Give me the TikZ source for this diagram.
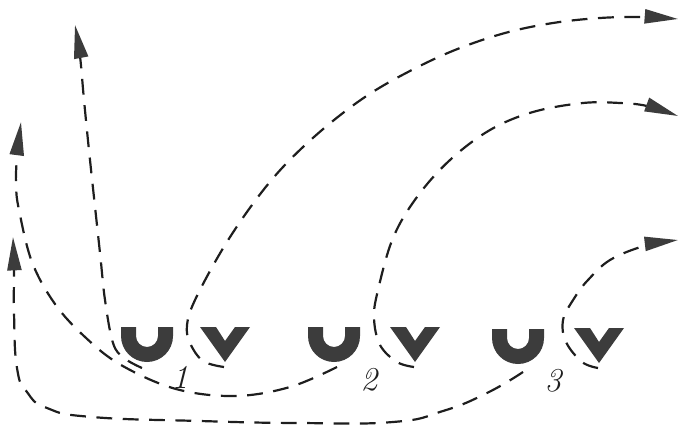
\documentclass[tikz,border=0pt]{standalone}
\usepackage{amsmath}
\usetikzlibrary{arrows.meta}
\definecolor{ink}{HTML}{1E1E1E}
\definecolor{soot}{HTML}{3C3C3C}
\tikzset{>=Latex,flow/.style={-{Triangle[length=19pt,width=8pt,color=soot,fill=soot]},ink,line width=1.25pt,dash pattern=on 9pt off 6pt},blockshape/.style={fill=soot},num/.style={font=\fontsize{19}{20}\selectfont\itshape,text=ink,inner sep=0pt}}
\begin{document}
\begin{tikzpicture}[x=.02cm,y=-.02cm]
\useasboundingbox (0,0) rectangle (678,425);
% cups and vees
\foreach \n/\ux/\uy/\vx/\vy in {1/147/327/225/327,2/334/327/415/327,3/518/329/599/328}{
\fill[blockshape,shift={(\ux,\uy)}] (-26,0) -- (-11,0) -- (-11,9) arc[start angle=180,end angle=0,x radius=11,y radius=11] -- (11,0) -- (26,0) -- (26,9) arc[start angle=0,end angle=180,x radius=26,y radius=26] -- cycle;
\fill[blockshape,shift={(\vx,\vy)}] (-25,0) -- (-9,0) -- (0,14) -- (10,0) -- (25,0) -- (0,35) -- cycle;
\coordinate (v\n) at (\vx-1,\vy+40);
}
\node[num] (n1) at (180,377) {1};
\node[num] (n2) at (369,380) {2};
\node[num] (n3) at (553,381) {3};
% ends of the paths
\coordinate (a1) at (678,19);\coordinate (a2) at (678,116);\coordinate (a3) at (678,240);
\coordinate (b1) at (75,25);\coordinate (b2) at (21,122);\coordinate (b3) at (13,237);
\coordinate (u1) at (142,368);\coordinate (u2) at (337,367);\coordinate (u3) at (523,372);
% to the right
\draw[flow] plot[smooth,tension=.6] coordinates {(v1) (203,361) (190,343) (187,325) (195,300) (222,250) (252,205) (283,167) (322,130) (365,97) (408,72) (455,50) (505,33) (553,23) (600,18) (642,17) (a1)};
\draw[flow] plot[smooth,tension=.6] coordinates {(v2) (397,362) (380,345) (374,318) (378,290) (393,238) (417,197) (450,160) (490,130) (533,112) (583,103) (620,103) (647,106) (a2)};
\draw[flow] plot[smooth,tension=.6] coordinates {(v3) (582,362) (566,342) (563,320) (575,297) (588,280) (610,260) (644,246) (a3)};
% to the left
\draw[flow] plot[smooth,tension=.6] coordinates {(u1) (124,358) (113,343) (105,300) (100,253) (90,160) (84,100) (80,56) (b1)};
\draw[flow] plot[smooth,tension=.6] coordinates {(u2) (290,387) (235,396) (176,389) (121,365) (85,337) (55,304) (32,262) (19,210) (16,185) (17,157) (b2)};
\draw[flow] plot[smooth,tension=.8] coordinates {(u3) (487,393) (443,411) (393,422) (298,423) (200,421) (92,417) (47,408) (27,392) (17,368) (14,313) (14,272) (b3)};
\end{tikzpicture}
\end{document}
